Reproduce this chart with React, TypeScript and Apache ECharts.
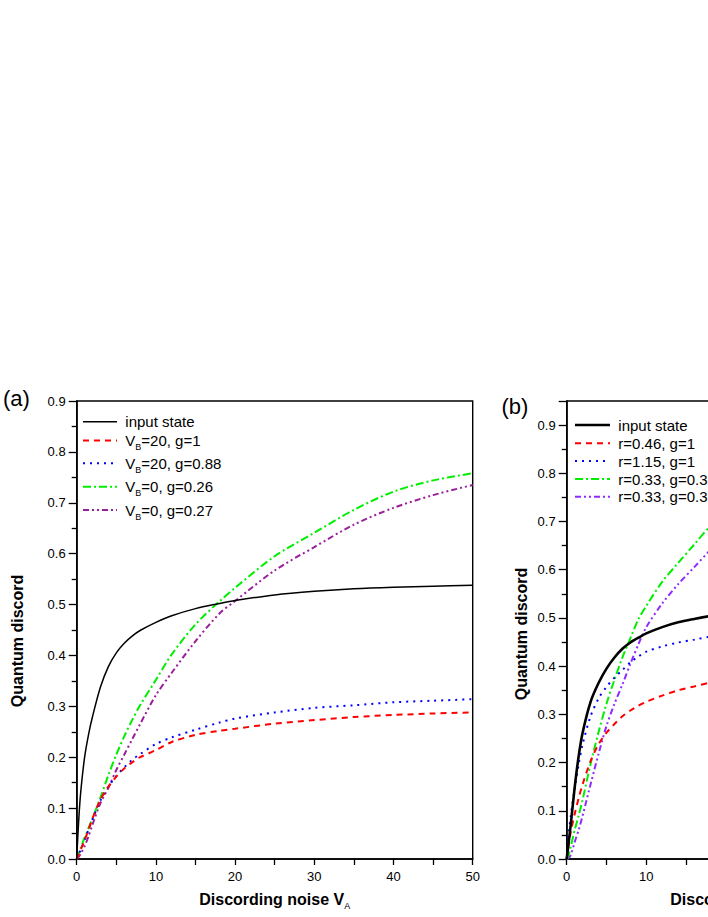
import React, { useEffect, useRef } from "react";
import * as echarts from "echarts";

// ---------- Panel (a) data ----------
const xA = [0, 0.25, 0.5, 1, 1.5, 2, 3, 4, 5, 6, 7, 8, 10, 12, 15, 18, 20, 25, 30, 35, 40, 45, 50];
const aInput = [0, 0.075, 0.13, 0.2, 0.245, 0.28, 0.338, 0.378, 0.405, 0.424, 0.438, 0.449, 0.465, 0.478, 0.492, 0.502, 0.508, 0.519, 0.526, 0.531, 0.534, 0.536, 0.538];
const aRed = [0, 0.009, 0.018, 0.037, 0.058, 0.08, 0.117, 0.142, 0.162, 0.178, 0.19, 0.2, 0.214, 0.23, 0.244, 0.252, 0.256, 0.266, 0.273, 0.279, 0.283, 0.286, 0.288];
const aBlue = [0, 0.009, 0.018, 0.037, 0.058, 0.078, 0.115, 0.142, 0.163, 0.18, 0.195, 0.206, 0.226, 0.239, 0.254, 0.268, 0.276, 0.288, 0.297, 0.302, 0.308, 0.311, 0.314];
const aGreen = [0, 0.011, 0.022, 0.042, 0.061, 0.08, 0.121, 0.165, 0.205, 0.241, 0.273, 0.302, 0.352, 0.402, 0.461, 0.506, 0.533, 0.595, 0.641, 0.686, 0.722, 0.744, 0.758];
const aPurple = [0, 0.004, 0.01, 0.025, 0.045, 0.068, 0.11, 0.14, 0.175, 0.205, 0.235, 0.265, 0.322, 0.366, 0.428, 0.482, 0.507, 0.567, 0.613, 0.657, 0.69, 0.715, 0.735];
const aLabels = ["input state", "V{s|B}=20, g=1", "V{s|B}=20, g=0.88", "V{s|B}=0, g=0.26", "V{s|B}=0, g=0.27"];

// ---------- Panel (b) data ----------
const xB = [0, 0.25, 0.5, 1, 1.5, 2, 3, 4, 5, 6, 7, 8, 9, 10, 12, 14, 16, 18, 20];
const bInput = [0, 0.035, 0.07, 0.148, 0.213, 0.262, 0.326, 0.365, 0.395, 0.418, 0.436, 0.449, 0.459, 0.468, 0.481, 0.491, 0.498, 0.504, 0.509];
const bRed = [0, 0.03, 0.055, 0.093, 0.126, 0.155, 0.203, 0.238, 0.262, 0.28, 0.296, 0.308, 0.318, 0.326, 0.339, 0.35, 0.358, 0.366, 0.372];
const bBlue = [0, 0.05, 0.088, 0.145, 0.196, 0.238, 0.296, 0.333, 0.357, 0.376, 0.392, 0.408, 0.42, 0.43, 0.441, 0.449, 0.455, 0.461, 0.465];
const bGreen = [0, 0.008, 0.025, 0.06, 0.09, 0.123, 0.197, 0.263, 0.322, 0.372, 0.418, 0.458, 0.497, 0.525, 0.575, 0.614, 0.652, 0.69, 0.72];
const bPurple = [0, 0.002, 0.008, 0.035, 0.06, 0.09, 0.155, 0.218, 0.276, 0.322, 0.362, 0.405, 0.445, 0.481, 0.53, 0.57, 0.605, 0.64, 0.67];
const bLabels = ["input state", "r=0.46, g=1", "r=1.15, g=1", "r=0.33, g=0.3", "r=0.33, g=0.3"];

const FONT = "'Liberation Sans', Arial, Helvetica, sans-serif";

const styles = [
  { color: "#000000", width: 1.5, dash: "solid" as any },
  { color: "#ff0000", width: 2, dash: [6, 5] },
  { color: "#0000ff", width: 2, dash: [2, 5] },
  { color: "#00ee00", width: 2, dash: [8, 3, 2, 3] },
  { color: "#991f99", width: 2, dash: [6, 3, 2, 3, 2, 3] },
];
const stylesB = [
  { color: "#000000", width: 2.6, dash: "solid" as any },
  { color: "#ff0000", width: 2, dash: [6, 5] },
  { color: "#0000ff", width: 2, dash: [2, 5] },
  { color: "#00ee00", width: 2, dash: [8, 3, 2, 3] },
  { color: "#8f2bff", width: 2, dash: [6, 3, 2, 3, 2, 3] },
];

const legendRich = {
  m: { fontSize: 15, fontFamily: FONT, color: "#000", lineHeight: 22, verticalAlign: "middle" },
  s: { fontSize: 9, fontFamily: FONT, color: "#000", lineHeight: 22, verticalAlign: "bottom" },
};

function wrapRich(label: string) {
  const parts = label.split(/(\{s\|[^}]*\})/);
  return parts.filter((p) => p.length > 0).map((p) => (p.startsWith("{s|") ? p : `{m|${p}}`)).join("");
}

function legendGraphics(labels: string[], st: any[], rowsY: number[], lx1: number, lx2: number, tx: number) {
  const els: any[] = [];
  labels.forEach((lab, i) => {
    const dash = Array.isArray(st[i].dash) ? st[i].dash : null;
    els.push({
      type: "line",
      shape: { x1: lx1, y1: rowsY[i], x2: lx2, y2: rowsY[i] },
      style: { stroke: st[i].color, lineWidth: st[i].width, lineDash: dash },
      silent: true,
    });
    els.push({
      type: "text",
      x: tx,
      y: rowsY[i],
      style: {
        text: wrapRich(lab),
        rich: legendRich,
        fill: "#000",
        font: `15px ${FONT}`,
        textVerticalAlign: "middle",
        verticalAlign: "middle",
        textAlign: "left",
        align: "left",
      },
      silent: true,
    });
  });
  return els;
}

function xAxisCfg(gridIndex: number, max: number, padRight: number) {
  return {
    type: "value",
    gridIndex,
    min: 0,
    max,
    interval: 5,
    name: "{m|Discording noise V}{s|A}",
    nameLocation: "middle",
    nameGap: 29,
    nameTextStyle: {
      padding: [0, padRight, 0, 0],
      rich: {
        m: { fontSize: 16, fontWeight: "bold", fontFamily: FONT, color: "#000", lineHeight: 22, verticalAlign: "middle" },
        s: { fontSize: 9, fontFamily: FONT, color: "#000", lineHeight: 22, verticalAlign: "bottom" },
      },
    },
    axisLine: { show: true, onZero: false, lineStyle: { color: "#000", width: 1.6 } },
    axisTick: { show: true, inside: false, length: 6, lineStyle: { color: "#000", width: 1.3 } },
    axisLabel: {
      formatter: (v: number) => (Math.abs(v % 10) < 1e-9 ? String(v) : ""),
      fontSize: 13,
      fontFamily: FONT,
      color: "#000",
      margin: 11,
    },
    splitLine: { show: false },
  };
}

function yAxisCfg(gridIndex: number, max: number, nameGap: number, padRight: number) {
  return {
    type: "value",
    gridIndex,
    min: 0,
    max,
    interval: 0.1,
    name: "Quantum discord",
    nameLocation: "middle",
    nameGap,
    nameTextStyle: {
      fontSize: 16,
      fontWeight: "bold",
      fontFamily: FONT,
      color: "#000",
      padding: [0, padRight, 0, 0],
    },
    axisLine: { show: true, onZero: false, lineStyle: { color: "#000", width: 1.6 } },
    axisTick: { show: true, inside: false, length: 8, lineStyle: { color: "#000", width: 1.3 } },
    minorTick: { show: true, splitNumber: 2, length: 5, lineStyle: { color: "#000", width: 1.3 } },
    axisLabel: {
      formatter: (v: number) => (Math.abs(v * 10 - Math.round(v * 10)) < 1e-6 ? v.toFixed(1) : ""),
      fontSize: 13,
      fontFamily: FONT,
      color: "#000",
      margin: 11,
    },
    splitLine: { show: false },
    minorSplitLine: { show: false },
  };
}

function makeSeries(xs: number[], ys: number[][], st: any[], idx: number) {
  return ys.map((arr, i) => ({
    type: "line",
    xAxisIndex: idx,
    yAxisIndex: idx,
    data: xs.map((x, k) => [x, arr[k]]),
    symbol: "none",
    showSymbol: false,
    smooth: 0.3,
    silent: true,
    z: 10 - i,
    lineStyle: { color: st[i].color, width: st[i].width, type: st[i].dash },
  }));
}

export default function App() {
  const ref = useRef<HTMLDivElement>(null);
  useEffect(() => {
    if (!ref.current) return;
    const chart = echarts.init(ref.current, null, { renderer: "svg" });
    const option: any = {
      animation: false,
      backgroundColor: "#ffffff",
      grid: [
        { left: 76.7, top: 401, width: 396, height: 458, show: true, borderColor: "#000", borderWidth: 1.4, backgroundColor: "transparent" },
        { left: 566.7, top: 401, width: 398, height: 458, show: true, borderColor: "#000", borderWidth: 1.4, backgroundColor: "transparent" },
      ],
      xAxis: [xAxisCfg(0, 50, 0), xAxisCfg(1, 50, 40)],
      yAxis: [yAxisCfg(0, 0.9, 51, 22), yAxisCfg(1, 0.95, 37, 8)],
      series: [
        ...makeSeries(xA, [aInput, aRed, aBlue, aGreen, aPurple], styles, 0),
        ...makeSeries(xB, [bInput, bRed, bBlue, bGreen, bPurple], stylesB, 1),
      ],
      graphic: [
        {
          type: "text",
          x: 3,
          y: 398,
          style: { text: "(a)", font: `22px ${FONT}`, fill: "#000", textVerticalAlign: "middle", verticalAlign: "middle" },
        },
        {
          type: "text",
          x: 501.5,
          y: 406,
          style: { text: "(b)", font: `22px ${FONT}`, fill: "#000", textVerticalAlign: "middle", verticalAlign: "middle" },
        },
        ...legendGraphics(aLabels, styles, [421.7, 440.5, 463.3, 486.7, 510], 83, 117, 125.3),
        ...legendGraphics(bLabels, stylesB, [425, 443.3, 461, 479, 496.7], 575, 610, 618.3),
      ],
    };
    chart.setOption(option);
    return () => chart.dispose();
  }, []);
  return (
    <div style={{ position: "absolute", left: 0, top: 0, width: 708, height: 917, overflow: "hidden", background: "#fff" }}>
      <div ref={ref} style={{ width: 1000, height: 917 }} />
    </div>
  );
}
